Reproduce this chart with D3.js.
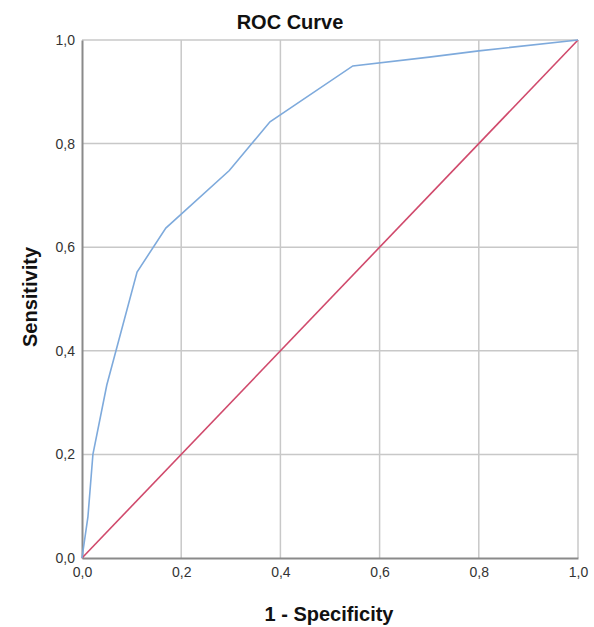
<!DOCTYPE html>
<html><head><meta charset="utf-8">
<script src="https://cdn.jsdelivr.net/npm/d3@7"></script>
<style>body{margin:0;background:#fff}svg{display:block}text{font-family:"Liberation Sans",Arial,sans-serif}</style>
</head><body>
<svg id="c" width="594" height="627"></svg>
<script>
const fpr = [0, 0.012, 0.022, 0.05, 0.111, 0.169, 0.297, 0.379, 0.546, 0.70, 0.80, 1.0];
const tpr = [0, 0.08, 0.20, 0.334, 0.552, 0.637, 0.748, 0.842, 0.950, 0.967, 0.979, 1.0];
const refLine = [0, 1];
const ticks = [0, 0.2, 0.4, 0.6, 0.8, 1.0];
const tickLabels = ["0,0", "0,2", "0,4", "0,6", "0,8", "1,0"];

const svg = d3.select("#c");
const m = {l: 82, r: 16, t: 40, b: 69};
const W = 594 - m.l - m.r, H = 627 - m.t - m.b;
const x = d3.scaleLinear().domain([0, 1]).range([m.l, m.l + W]);
const y = d3.scaleLinear().domain([0, 1]).range([m.t + H, m.t]);

// grid
svg.append("g").selectAll("line").data(ticks.slice(1)).join("line")
  .attr("x1", d => x(d)).attr("x2", d => x(d)).attr("y1", y(0)).attr("y2", y(1))
  .attr("stroke", "#c8c8c8").attr("stroke-width", 1.5);
svg.append("g").selectAll("line").data(ticks.slice(1)).join("line")
  .attr("y1", d => y(d)).attr("y2", d => y(d)).attr("x1", x(0)).attr("x2", x(1))
  .attr("stroke", "#c8c8c8").attr("stroke-width", 1.5);

// axes
const xa = svg.append("g").attr("transform", `translate(0,${y(0)})`)
  .call(d3.axisBottom(x).tickValues(ticks).tickFormat((d, i) => tickLabels[i]).tickSize(0).tickPadding(9));
const ya = svg.append("g").attr("transform", `translate(${x(0)},0)`)
  .call(d3.axisLeft(y).tickValues(ticks).tickFormat((d, i) => tickLabels[i]).tickSize(0).tickPadding(7));
[xa, ya].forEach(a => {
  a.select(".domain").attr("stroke", "#8a8a8a").attr("stroke-width", 2);
  a.selectAll("text").attr("font-size", 14).attr("fill", "#333").attr("font-family", '"Liberation Sans",Arial,sans-serif');
});

// reference line
svg.append("path").datum(refLine)
  .attr("d", d3.line().x(d => x(d)).y(d => y(d)))
  .attr("fill", "none").attr("stroke", "#d04a6c").attr("stroke-width", 1.6);

// ROC curve
svg.append("path").datum(fpr.map((f, i) => [f, tpr[i]]))
  .attr("d", d3.line().x(d => x(d[0])).y(d => y(d[1])))
  .attr("fill", "none").attr("stroke", "#7eaadc").attr("stroke-width", 1.6);

// titles
svg.append("text").attr("x", 290).attr("y", 29).attr("text-anchor", "middle")
  .attr("font-size", 20).attr("font-weight", "bold").attr("fill", "#111").text("ROC Curve");
svg.append("text").attr("x", 329).attr("y", 621).attr("text-anchor", "middle")
  .attr("font-size", 20).attr("font-weight", "bold").attr("fill", "#111").text("1 - Specificity");
svg.append("text").attr("transform", "translate(37,297) rotate(-90)").attr("text-anchor", "middle")
  .attr("font-size", 20).attr("font-weight", "bold").attr("fill", "#111").text("Sensitivity");
</script>
</body></html>
